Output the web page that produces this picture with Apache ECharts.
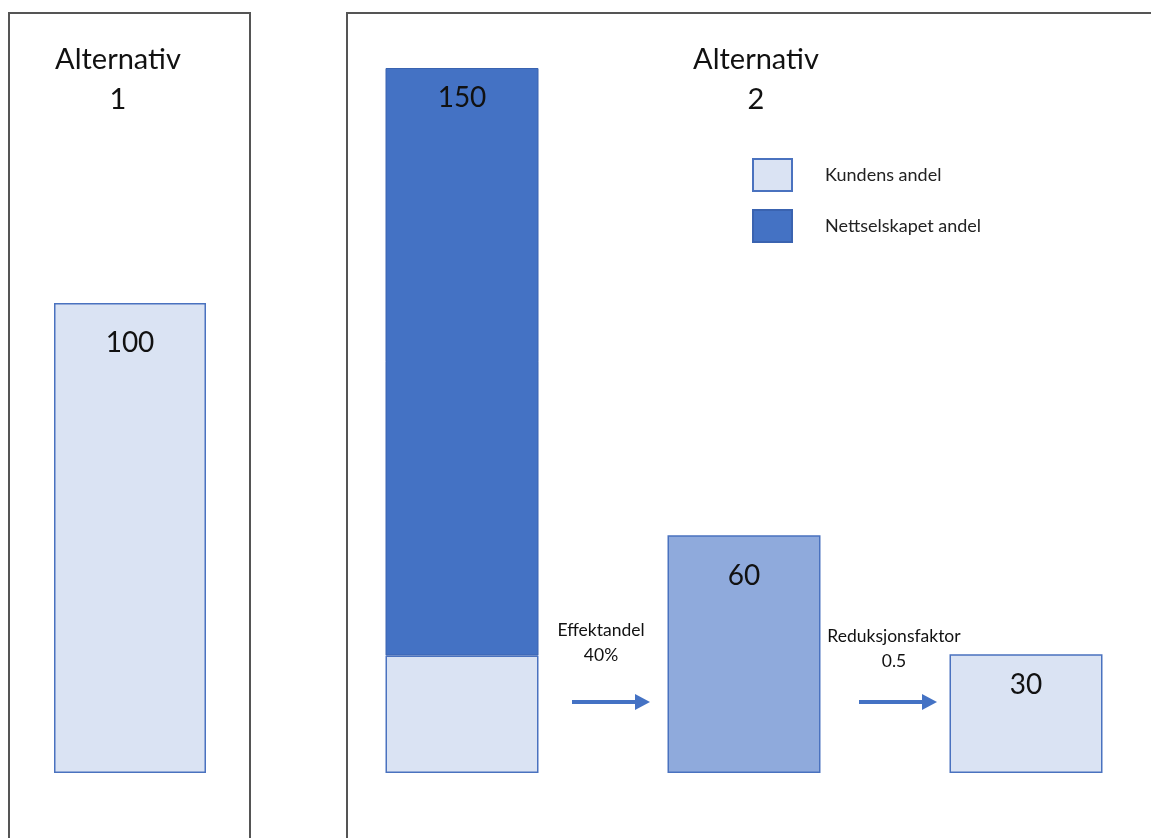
<!DOCTYPE html>
<html><head><meta charset="utf-8">
<script src="https://cdn.jsdelivr.net/npm/echarts@6/dist/echarts.min.js"></script>
<style>html,body{margin:0;padding:0;background:#fff}#c{width:1151px;height:838px}</style>
</head><body><div id="c"></div>
<script>
// ---- data ----
const panelTitles = ['Alternativ\n1', 'Alternativ\n2'];
const alt1Categories = ['Alternativ 1'];
const alt1Values = [100];
const alt2Categories = ['Alternativ 2', 'Effektandel', 'Reduksjonsfaktor'];
const kundensAndel = [25, null, null];
const nettselskapetAndel = [125, null, null];
const effektValues = [null, 60, null];
const reduksjonValues = [null, null, 30];
const legendNames = ['Kundens andel', 'Nettselskapet andel'];
const stepTexts = ['Effektandel\n40%', 'Reduksjonsfaktor\n0.5'];

const FONT = 'Lato, "Open Sans", sans-serif';
const LIGHT = '#dae3f3', DARK = '#4472c4', MID = '#8faadc', EDGE = '#4a72bf';

const labelStyle = (fmt, dist) => ({
  show: true, position: 'insideTop', distance: dist,
  fontSize: 28, color: '#111', fontFamily: FONT, formatter: fmt
});

const titleStyle = { fontSize: 29, fontWeight: 'normal', color: '#111', fontFamily: FONT, lineHeight: 40 };

const chart = echarts.init(document.getElementById('c'));
chart.setOption({
  animation: false,
  title: [
    { text: panelTitles[0], left: 118, top: 40, textAlign: 'center', padding: 0, textStyle: titleStyle },
    { text: panelTitles[1], left: 756, top: 40, textAlign: 'center', padding: 0, textStyle: titleStyle }
  ],
  legend: {
    data: legendNames, orient: 'vertical', left: 752, top: 158, padding: 0,
    itemWidth: 39, itemHeight: 32, itemGap: 17, icon: 'rect',
    textStyle: { fontSize: 18, color: '#222', fontFamily: FONT, padding: [0, 0, 0, 28] },
    selectedMode: false
  },
  grid: [
    { left: 54, top: 68, width: 152, bottom: 65, outerBoundsMode: 'none' },
    { left: 321, top: 68, width: 846, bottom: 65, outerBoundsMode: 'none' }
  ],
  xAxis: [
    { type: 'category', gridIndex: 0, data: alt1Categories, show: false },
    { type: 'category', gridIndex: 1, data: alt2Categories, show: false }
  ],
  yAxis: [
    { type: 'value', gridIndex: 0, min: 0, max: 150, show: false },
    { type: 'value', gridIndex: 1, min: 0, max: 150, show: false },
    { type: 'value', gridIndex: 1, min: 0, max: 178, show: false }
  ],
  series: [
    { type: 'bar', name: 'Alternativ 1', xAxisIndex: 0, yAxisIndex: 0, data: alt1Values, barWidth: 152,
      itemStyle: { color: LIGHT, borderColor: EDGE, borderWidth: 1.5 }, label: labelStyle('{c}', 26) },
    { type: 'bar', name: legendNames[0], xAxisIndex: 1, yAxisIndex: 1, stack: 'alt2', data: kundensAndel,
      barWidth: 153, barGap: '-100%',
      itemStyle: { color: LIGHT, borderColor: EDGE, borderWidth: 1.5 } },
    { type: 'bar', name: legendNames[1], xAxisIndex: 1, yAxisIndex: 1, stack: 'alt2', data: nettselskapetAndel,
      barWidth: 153, barGap: '-100%',
      itemStyle: { color: DARK, borderColor: '#3a63b0', borderWidth: 1 },
      label: labelStyle(p => String((kundensAndel[p.dataIndex] || 0) + (nettselskapetAndel[p.dataIndex] || 0)), 16) },
    { type: 'bar', name: 'Effektandel', xAxisIndex: 1, yAxisIndex: 2, data: effektValues,
      barWidth: 153, barGap: '-100%',
      itemStyle: { color: MID, borderColor: EDGE, borderWidth: 1.5 }, label: labelStyle('{c}', 27) },
    { type: 'bar', name: 'Reduksjonsfaktor', xAxisIndex: 1, yAxisIndex: 2, data: reduksjonValues,
      barWidth: 153, barGap: '-100%',
      itemStyle: { color: LIGHT, borderColor: EDGE, borderWidth: 1.5 }, label: labelStyle('{c}', 17) }
  ],
  graphic: [
    { type: 'rect', shape: { x: 9, y: 13, width: 241, height: 900 },
      style: { fill: 'none', stroke: '#555', lineWidth: 2 } },
    { type: 'rect', shape: { x: 347, y: 13, width: 900, height: 900 },
      style: { fill: 'none', stroke: '#555', lineWidth: 2 } },
    { type: 'text', x: 601, y: 618, style: { text: stepTexts[0], textAlign: 'center', fontSize: 17.5,
      lineHeight: 25, fill: '#111', fontFamily: FONT } },
    { type: 'text', x: 894, y: 624, style: { text: stepTexts[1], textAlign: 'center', fontSize: 17.5,
      lineHeight: 25, fill: '#111', fontFamily: FONT } },
    { type: 'line', shape: { x1: 572, y1: 702, x2: 637, y2: 702 }, style: { stroke: DARK, lineWidth: 4 } },
    { type: 'polygon', shape: { points: [[635, 694], [650, 702], [635, 710]] }, style: { fill: DARK } },
    { type: 'line', shape: { x1: 859, y1: 702, x2: 924, y2: 702 }, style: { stroke: DARK, lineWidth: 4 } },
    { type: 'polygon', shape: { points: [[922, 694], [937, 702], [922, 710]] }, style: { fill: DARK } }
  ]
});
</script></body></html>
